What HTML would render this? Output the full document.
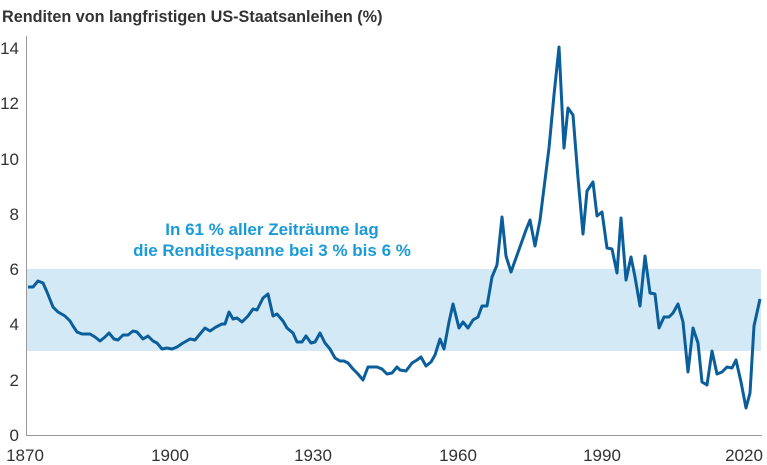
<!DOCTYPE html>
<html><head><meta charset="utf-8"><style>
body{margin:0;background:#fff;}
svg{display:block;font-family:"Liberation Sans",sans-serif;}
</style></head><body>
<svg width="767" height="465" viewBox="0 0 767 465">
<text x="2" y="22" font-size="16.2" font-weight="bold" fill="#333">Renditen von langfristigen US-Staatsanleihen (%)</text>
<rect x="26" y="269" width="735" height="82" fill="#d3e9f6"/>
<line x1="26.5" y1="36" x2="26.5" y2="435" stroke="#999" stroke-width="1"/>
<line x1="26" y1="435.5" x2="762" y2="435.5" stroke="#999" stroke-width="1"/>
<g font-size="17" fill="#333" text-anchor="end">
<text x="19" y="441">0</text><text x="19" y="386">2</text><text x="19" y="330">4</text>
<text x="19" y="275">6</text><text x="19" y="220">8</text><text x="19" y="165">10</text>
<text x="19" y="109">12</text><text x="19" y="54">14</text>
</g>
<g font-size="17" fill="#333" text-anchor="middle">
<text x="25" y="461">1870</text><text x="170" y="461">1900</text><text x="313" y="461">1930</text>
<text x="458" y="461">1960</text><text x="602" y="461">1990</text><text x="744" y="461">2020</text>
</g>
<g font-size="17" fill="#1a9ad6" text-anchor="middle" font-weight="bold">
<text x="272" y="235">In 61 % aller Zeiträume lag</text>
<text x="272" y="256">die Renditespanne bei 3 % bis 6 %</text>
</g>
<polyline fill="none" stroke="#0a5e9c" stroke-width="3" stroke-linejoin="round" points="28,287 33,287 38,281 43,283 47,292 53,307 58,312 65,316 70,321 73,326 77,332 82,334 90,334 95,337 100,341 105,337 109,333 114,339 118,340 123,335 128,335 133,331 137,332 143,339 148,336 153,341 157,343 162,349 167,348 172,349 177,347 183,343 190,339 195,340 200,334 205,328 210,331 216,327 222,324 225,324 229,312 233,319 237,318 242,322 248,316 253,309 257,310 263,298 268,294 273,316 277,314 283,321 287,328 293,333 297,342 302,342 306,336 311,343 315,342 320,333 325,343 330,349 335,358 340,361 344,361 348,363 353,369 358,374 363,380 368,367 377,367 382,369 387,374 392,373 397,367 400,370 406,371 412,363 417,360 421,357 426,366 431,362 435,355 440,339 444,349 449,322 453,304 459,328 463,322 468,328 473,320 478,317 482,306 487,306 492,277 497,265 502,217 506,256 511,272 516,258 521,244 526,230 530,220 535,246 540,220 545,180 549,148 554,95 559,47 564,148 568,108 573,115 578,178 583,234 587,191 593,182 597,216 602,212 607,248 612,249 617,273 621,218 626,280 631,257 635,277 640,306 645,256 650,293 655,294 659,328 664,317 669,317 673,313 678,304 683,322 688,372 693,328 698,343 702,382 707,385 712,351 717,374 722,372 727,367 732,368 736,360 741,382 746,408 750,393 754,326 760,299"/>
</svg>
</body></html>
